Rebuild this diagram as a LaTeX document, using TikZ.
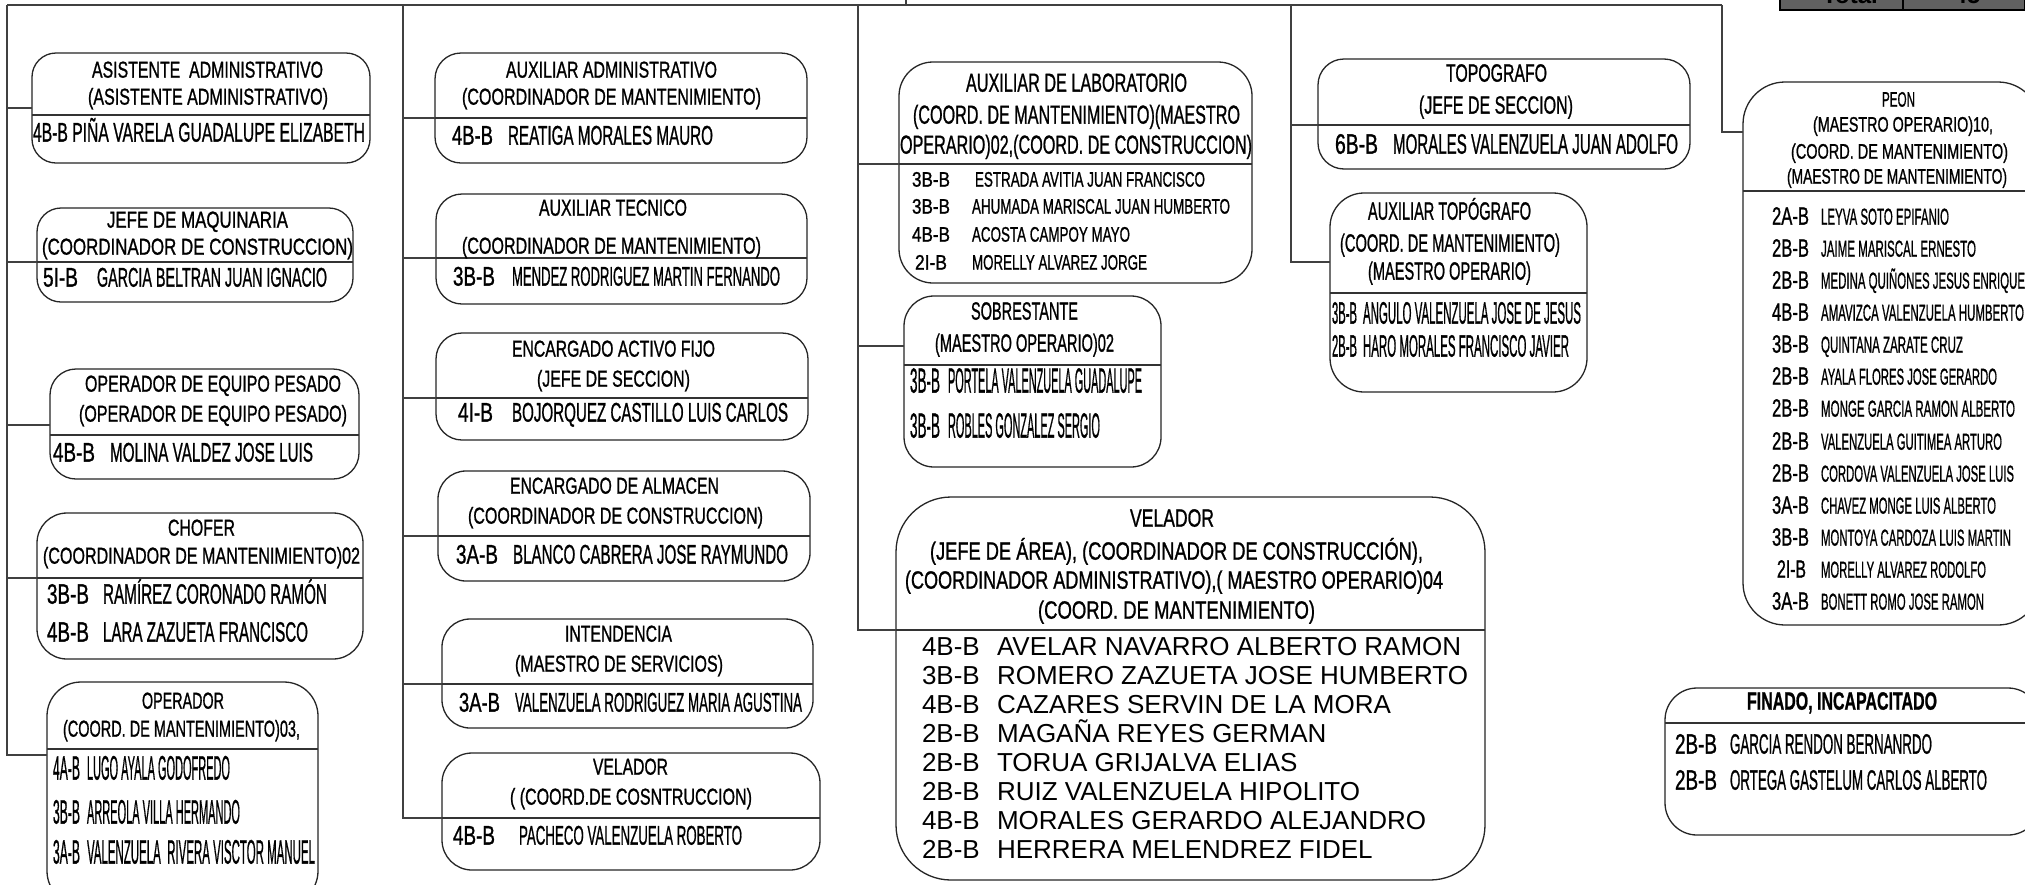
\documentclass[tikz,border=0pt]{standalone}
\usepackage{fontspec}
\usepackage{graphicx}
\setmainfont{Liberation Sans}
\newfontfamily\cnd{Liberation Sans}[RawFeature={embolden=1.2}]
\newcounter{tn}
\newcommand\fz[1]{\fontsize{#1pt}{#1pt}\selectfont}
\newcommand\txc[5]{\stepcounter{tn}\node[tt,font=\cnd\fz{#1},anchor=mid] (t\thetn) at (#2,#3) {\resizebox{#4pt}{\height}{#5}};}
\newcommand\txl[5]{\stepcounter{tn}\node[tt,font=\cnd\fz{#1},anchor=mid west] (t\thetn) at (#2,#3) {\resizebox{#4pt}{\height}{#5}};}
\newcommand\txn[4]{\stepcounter{tn}\node[tt,font=\fz{#1},anchor=mid west] (t\thetn) at (#2,#3) {#4};}
\newcommand\txcn[8]{\txl{#1}{#3}{#2}{#4}{#5}\txl{#1}{#6}{#2}{#7}{#8}}
\newcommand\bx[7]{\node[boxst, rounded corners=#7pt, minimum width={#4-#2}, minimum height={#5-#3}] (#1) at ({(#2+#4)/2},{(#3+#5)/2}) {};
\draw[divl] (#1.west |- 0,#6) -- (#1.east |- 0,#6);}
\tikzset{
 boxst/.style={draw=black!85, line width=1.3pt, inner sep=0pt, outer sep=0pt},
 divl/.style={draw=black!80, line width=1.3pt},
 conn/.style={draw=black!75, line width=1.6pt},
 tt/.style={inner sep=0pt, outer sep=0pt, text=black, yshift=-4pt},
 tbl/.style={draw=black, line width=2pt, fill=black!62, inner sep=0pt, outer sep=0pt},
}
\begin{document}
\begin{tikzpicture}[x=1pt,y=-1pt]
\useasboundingbox (0,0) rectangle (2025,884);
\fill[white] (0,0) rectangle (2025,884);
% total table
\node[tbl, minimum width=123pt, minimum height=40pt] (tot1) at (1841.5,-10) {};
\node[tbl, minimum width=122pt, minimum height=40pt] (tot2) at (1964,-10) {};
\node[tt, font=\fz{24}\bfseries, anchor=base] (totl) at (1850,-1) {Total};
\node[tt, font=\fz{24}\bfseries, anchor=base] (totn) at (1967,-1) {45};
% boxes
\bx{asis}{32}{53}{370}{163}{115}{24}
\bx{jefe}{37}{208}{353}{302}{262}{24}
\bx{opeq}{50}{369}{359}{479}{435}{26}
\bx{chof}{37}{513}{363}{659}{578}{30}
\bx{oper}{47}{682}{318}{905}{749}{34}
\bx{auxadm}{435}{53}{807}{163}{118}{26}
\bx{auxtec}{436}{194}{807}{304}{258}{26}
\bx{activo}{436}{333}{808}{440}{398}{26}
\bx{almac}{438}{471}{810}{581}{536}{28}
\bx{intend}{442}{619}{813}{728}{684}{28}
\bx{velsm}{442}{753}{820}{870}{818}{30}
\bx{auxlab}{899}{62}{1252}{283}{164}{34}
\bx{sobre}{904}{296}{1161}{467}{365}{30}
\bx{velbig}{896}{497}{1485}{880}{630}{55}
\bx{topo}{1318}{59}{1690}{169}{125}{26}
\bx{auxtopo}{1330}{193}{1587}{392}{293}{34}
\bx{peon}{1743}{82}{2040}{625}{191}{42}
\bx{finado}{1665}{688}{2040}{835}{723}{32}
% connectors
\coordinate (tl) at (7,5);
\coordinate (tr) at (1722,5);
\coordinate (up) at (906,-10);
\draw[conn] (tl) -- (tr);
\draw[conn] (up) -- (up |- tl);
\coordinate (c1) at (7,755);
\draw[conn] (tl) -- (c1) -- (oper.west |- c1);
\draw[conn] (tl |- 0,108) -- (asis.west |- 0,108);
\draw[conn] (tl |- 0,262) -- (jefe.west |- 0,262);
\draw[conn] (tl |- 0,425) -- (opeq.west |- 0,425);
\draw[conn] (tl |- 0,578) -- (chof.west |- 0,578);
\coordinate (c2t) at (403,5);
\coordinate (c2) at (403,818);
\draw[conn] (c2t) -- (c2) -- (velsm.west |- c2);
\draw[conn] (c2t |- 0,118) -- (auxadm.west |- 0,118);
\draw[conn] (c2t |- 0,258) -- (auxtec.west |- 0,258);
\draw[conn] (c2t |- 0,398) -- (activo.west |- 0,398);
\draw[conn] (c2t |- 0,536) -- (almac.west |- 0,536);
\draw[conn] (c2t |- 0,684) -- (intend.west |- 0,684);
\coordinate (c3t) at (858,5);
\coordinate (c3) at (858,630);
\draw[conn] (c3t) -- (c3) -- (velbig.west |- c3);
\draw[conn] (c3t |- 0,164) -- (auxlab.west |- 0,164);
\draw[conn] (c3t |- 0,346) -- (sobre.west |- 0,346);
\coordinate (c4t) at (1291,5);
\coordinate (c4) at (1291,262);
\draw[conn] (c4t) -- (c4) -- (auxtopo.west |- c4);
\draw[conn] (c4t |- 0,125) -- (topo.west |- 0,125);
\coordinate (c5) at (1722,132);
\draw[conn] (tr) -- (c5) -- (peon.west |- c5);
% ---- texts column 1
\txc{23}{207.5}{71}{231}{ASISTENTE\ \ ADMINISTRATIVO}
\txc{23}{208}{98}{240}{(ASISTENTE ADMINISTRATIVO)}
\txl{27}{33}{135}{332}{4B-B PIÑA VARELA GUADALUPE ELIZABETH}
\txc{23}{197.5}{221}{181}{JEFE DE MAQUINARIA}
\txc{23}{197.5}{248}{311}{(COORDINADOR DE CONSTRUCCION)}
\txcn{27}{280}{43}{35}{5I-B}{97}{230}{GARCIA BELTRAN JUAN IGNACIO}
\txc{23}{213}{385}{256}{OPERADOR DE EQUIPO PESADO}
\txc{23}{213}{415}{268}{(OPERADOR DE EQUIPO PESADO)}
\txcn{27}{455}{53}{42}{4B-B}{110}{203}{MOLINA VALDEZ JOSE LUIS}
\txc{23}{201.5}{529}{67}{CHOFER}
\txc{23}{201.5}{557}{317}{(COORDINADOR DE MANTENIMIENTO)02}
\txcn{28}{597}{47}{42}{3B-B}{103}{224}{RAMÍREZ CORONADO RAMÓN}
\txcn{28}{635}{47}{42}{4B-B}{103}{205}{LARA ZAZUETA FRANCISCO}
\txc{23}{183}{702}{82}{OPERADOR}
\txc{23}{181.5}{730}{237}{(COORD. DE MANTENIMIENTO)03,}
\txcn{34}{773}{53}{27}{4A-B}{87}{143}{LUGO AYALA GODOFREDO}
\txcn{34}{817}{53}{27}{3B-B}{87}{153}{ARREOLA VILLA HERMANDO}
\txcn{34}{857}{53}{27}{3A-B}{87}{228}{VALENZUELA\ \ RIVERA VISCTOR MANUEL}
% ---- column 2
\txc{23}{611.5}{71}{211}{AUXILIAR ADMINISTRATIVO}
\txc{23}{611.5}{98}{299}{(COORDINADOR DE MANTENIMIENTO)}
\txcn{27}{138}{452}{41}{4B-B}{508}{205}{REATIGA MORALES MAURO}
\txc{23}{613}{209}{148}{AUXILIAR TECNICO}
\txc{23}{611.5}{247}{299}{(COORDINADOR DE MANTENIMIENTO)}
\txcn{27}{279}{453}{42}{3B-B}{512}{268}{MENDEZ RODRIGUEZ MARTIN FERNANDO}
\txc{23}{613.5}{350}{203}{ENCARGADO ACTIVO FIJO}
\txc{23}{613.5}{380}{153}{(JEFE DE SECCION)}
\txcn{27}{415}{458}{35}{4I-B}{512}{276}{BOJORQUEZ CASTILLO LUIS CARLOS}
\txc{23}{614.5}{487}{209}{ENCARGADO DE ALMACEN}
\txc{23}{615.5}{517}{295}{(COORDINADOR DE CONSTRUCCION)}
\txcn{27}{557}{456}{42}{3A-B}{513}{275}{BLANCO CABRERA JOSE RAYMUNDO}
\txc{23}{618.5}{635}{107}{INTENDENCIA}
\txc{23}{619}{665}{208}{(MAESTRO DE SERVICIOS)}
\txcn{27}{705}{459}{41}{3A-B}{515}{287}{VALENZUELA RODRIGUEZ MARIA AGUSTINA}
\txc{23}{630.5}{768}{75}{VELADOR}
\txc{23}{631}{798}{242}{( (COORD.DE COSNTRUCCION)}
\txcn{27}{838}{453}{42}{4B-B}{519}{223}{PACHECO VALENZUELA ROBERTO}
% ---- column 3
\txc{26}{1076.5}{85}{221}{AUXILIAR DE LABORATORIO}
\txc{26}{1076.5}{117}{327}{(COORD. DE MANTENIMIENTO)(MAESTRO}
\txc{26}{1076}{147}{352}{OPERARIO)02,(COORD. DE CONSTRUCCION)}
\txcn{21}{180}{912}{38}{3B-B}{975}{230}{ESTRADA AVITIA JUAN FRANCISCO}
\txcn{21}{207}{912}{38}{3B-B}{972}{258}{AHUMADA MARISCAL JUAN HUMBERTO}
\txcn{21}{235}{912}{38}{4B-B}{972}{158}{ACOSTA CAMPOY MAYO}
\txcn{21}{263}{915}{32}{2I-B}{972}{175}{MORELLY ALVAREZ JORGE}
\txc{25}{1024.5}{313}{107}{SOBRESTANTE}
\txc{25}{1024.5}{345}{179}{(MAESTRO OPERARIO)02}
\txcn{35}{386}{910}{30}{3B-B}{948}{194}{PORTELA VALENZUELA GUADALUPE}
\txcn{35}{431}{910}{30}{3B-B}{948}{152}{ROBLES GONZALEZ SERGIO}
\txc{25}{1172}{520}{84}{VELADOR}
\txc{25}{1176.5}{553}{493}{(JEFE DE ÁREA), (COORDINADOR DE CONSTRUCCIÓN),}
\txc{25}{1174}{582}{538}{(COORDINADOR ADMINISTRATIVO),( MAESTRO OPERARIO)04}
\txc{25}{1176.5}{612}{277}{(COORD. DE MANTENIMIENTO)}
\txn{26}{922}{649}{4B-B}\txn{26}{997}{649}{AVELAR NAVARRO ALBERTO RAMON}
\txn{26}{922}{678}{3B-B}\txn{26}{997}{678}{ROMERO ZAZUETA JOSE HUMBERTO}
\txn{26}{922}{707}{4B-B}\txn{26}{997}{707}{CAZARES SERVIN DE LA MORA}
\txn{26}{922}{736}{2B-B}\txn{26}{997}{736}{MAGAÑA REYES GERMAN}
\txn{26}{922}{765}{2B-B}\txn{26}{997}{765}{TORUA GRIJALVA ELIAS}
\txn{26}{922}{794}{2B-B}\txn{26}{997}{794}{RUIZ VALENZUELA HIPOLITO}
\txn{26}{922}{823}{4B-B}\txn{26}{997}{823}{MORALES GERARDO ALEJANDRO}
\txn{26}{922}{852}{2B-B}\txn{26}{997}{852}{HERRERA MELENDREZ FIDEL}
% ---- column 4
\txc{25}{1496.5}{75}{101}{TOPOGRAFO}
\txc{25}{1496}{107}{154}{(JEFE DE SECCION)}
\txcn{28}{147}{1335}{43}{6B-B}{1393}{285}{MORALES VALENZUELA JUAN ADOLFO}
\txc{25}{1449.5}{213}{163}{AUXILIAR TOPÓGRAFO}
\txc{25}{1450}{245}{220}{(COORD. DE MANTENIMIENTO)}
\txc{25}{1449.5}{273}{163}{(MAESTRO OPERARIO)}
\txcn{31}{317}{1332}{25}{3B-B}{1363}{218}{ANGULO VALENZUELA JOSE DE JESUS}
\txcn{31}{350}{1332}{25}{2B-B}{1363}{206}{HARO MORALES FRANCISCO JAVIER}
% ---- column 5
\txc{21}{1898.5}{100}{33}{PEON}
\txc{21}{1903}{125}{180}{(MAESTRO OPERARIO)10,}
\txc{21}{1899.5}{152}{217}{(COORD. DE MANTENIMIENTO)}
\txc{21}{1897}{177}{220}{(MAESTRO DE MANTENIMIENTO)}
\txl{25}{1772}{218}{37}{2A-B}\txl{23}{1821}{218}{128}{LEYVA SOTO EPIFANIO}
\txl{25}{1772}{250}{37}{2B-B}\txl{23}{1821}{250}{155}{JAIME MARISCAL ERNESTO}
\txl{25}{1772}{282}{37}{2B-B}\txl{23}{1821}{282}{204}{MEDINA QUIÑONES JESUS ENRIQUE}
\txl{25}{1772}{314}{37}{4B-B}\txl{23}{1821}{314}{203}{AMAVIZCA VALENZUELA HUMBERTO}
\txl{25}{1772}{346}{37}{3B-B}\txl{23}{1821}{346}{142}{QUINTANA ZARATE CRUZ}
\txl{25}{1772}{378}{37}{2B-B}\txl{23}{1821}{378}{176}{AYALA FLORES JOSE GERARDO}
\txl{25}{1772}{410}{37}{2B-B}\txl{23}{1821}{410}{194}{MONGE GARCIA RAMON ALBERTO}
\txl{25}{1772}{443}{37}{2B-B}\txl{23}{1821}{443}{181}{VALENZUELA GUITIMEA ARTURO}
\txl{25}{1772}{475}{37}{2B-B}\txl{23}{1821}{475}{193}{CORDOVA VALENZUELA JOSE LUIS}
\txl{25}{1772}{507}{37}{3A-B}\txl{23}{1821}{507}{175}{CHAVEZ MONGE LUIS ALBERTO}
\txl{25}{1772}{539}{37}{3B-B}\txl{23}{1821}{539}{190}{MONTOYA CARDOZA LUIS MARTIN}
\txl{25}{1777}{571}{29}{2I-B}\txl{23}{1821}{571}{165}{MORELLY ALVAREZ RODOLFO}
\txl{25}{1772}{603}{37}{3A-B}\txl{23}{1821}{603}{163}{BONETT ROMO JOSE RAMON}
\txc{25}{1842}{703}{190}{\bfseries FINADO, INCAPACITADO}
\txcn{28}{747}{1675}{42}{2B-B}{1730}{202}{GARCIA RENDON BERNANRDO}
\txcn{28}{783}{1675}{42}{2B-B}{1730}{257}{ORTEGA GASTELUM CARLOS ALBERTO}
\end{tikzpicture}
\end{document}
